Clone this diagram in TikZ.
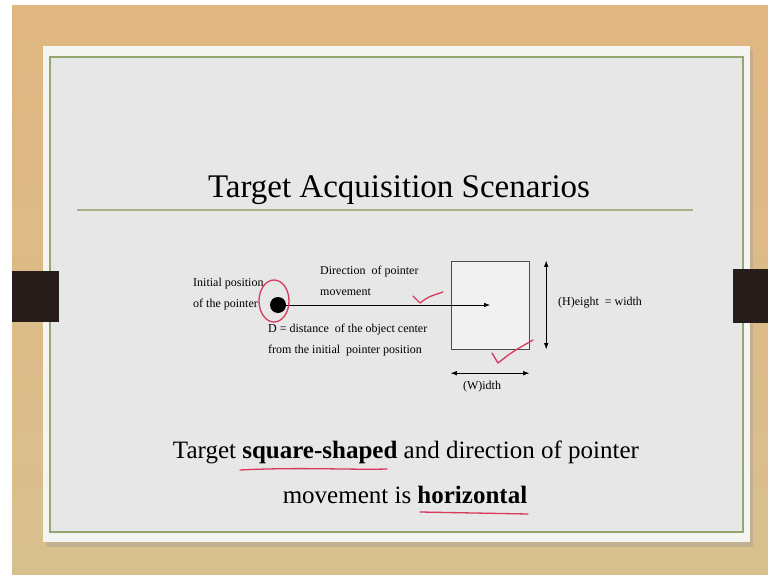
\documentclass[tikz,border=0pt]{standalone}
\usepackage{fontspec}
\setmainfont{Liberation Serif}
\usetikzlibrary{arrows.meta,positioning}
\definecolor{WoodTop}{RGB}{224,182,130}
\definecolor{WoodBottom}{RGB}{216,192,142}
\definecolor{SlideWhite}{RGB}{244,244,242}
\definecolor{SlideGray}{RGB}{231,231,231}
\definecolor{FrameGreen}{RGB}{150,166,112}
\definecolor{InkRed}{RGB}{214,58,92}
\definecolor{TabBlack}{RGB}{40,28,26}
\tikzset{
  small label/.style={font=\fontsize{12}{20.5}\selectfont, align=left, inner sep=0pt},
  red ink/.style={InkRed, line width=1.3pt, line cap=round, line join=round},
  dim arrow/.style={{Latex[length=6pt,width=4.5pt]}-{Latex[length=6pt,width=4.5pt]}, semithick},
}

\begin{document}
\begin{tikzpicture}[x=1pt,y=-1pt]
            \useasboundingbox (0,0) rectangle (768,575);
            \fill[white] (0,0) rectangle (768,575);
            \shade[top color=WoodTop, bottom color=WoodBottom] (12,6) rectangle (768,575);

            % the slide
            \fill[black!40,opacity=0.35] (46,50) rectangle (753,547);
            \fill[SlideWhite] (43,46) rectangle (750,542);
            \draw[FrameGreen, line width=1.5pt, fill=SlideGray] (50,57) rectangle (743,532);
            \fill[TabBlack] (12,271) rectangle (59,322);
            \fill[TabBlack] (733,269) rectangle (768,323);

            \node[font=\fontsize{33}{36}\selectfont, anchor=base] (title) at (399,197) {Target Acquisition Scenarios};
            \draw[FrameGreen!85, line width=1.6pt] (77,210) -- (693,210);

            % pointer and target
            \node[circle, fill=black, inner sep=0pt, minimum size=16pt] (pointer) at (278,305) {};
            \node[draw=black!70, fill=SlideGray!60!white, minimum width=78pt, minimum height=88pt, inner sep=0pt] (target) at (490,305) {};
            \draw[semithick, -{Latex[length=6pt,width=4.5pt]}] (pointer) -- (target.center);
            \draw[dim arrow] ([xshift=17pt]target.north east) -- ([xshift=17pt]target.south east);
            \draw[dim arrow] ([yshift=-24pt]target.south west) -- ([yshift=-24pt]target.south east);

            \node[small label, anchor=west] (height) at (558,303) {(H)eight \ = width};
            \node[small label] (width) at (482,387) {(W)idth};
            \node[small label, anchor=west] (initial) at (193,294) {Initial position\\of the pointer};
            \node[small label, anchor=west] (direction) at (320,281) {Direction \ of pointer\\movement};
            \node[small label, anchor=west] (distance) at (268,340) {D = distance \ of the object center\\from the initial \ pointer position};

            \node[font=\fontsize{25}{30}\selectfont, anchor=base] (caption) at (406,458) {Target \textbf{square-shaped} and direction of pointer};
            \node[font=\fontsize{25}{30}\selectfont, anchor=base] (caption2) at (405,503) {movement is \textbf{horizontal}};

            % red pen marks
            \draw[red ink] (pointer.center) ++(-4,-4) ellipse [x radius=15, y radius=21];
            \draw[red ink] (413,296) .. controls (416,300) .. (420,303) .. controls (428,297) .. (443,292);
            \draw[red ink] (492,353) .. controls (495,358) .. (498,363) .. controls (512,352) .. (533,340);
            \draw[red ink] (240,470) .. controls (300,467) and (350,470) .. (387,469);
            \draw[red ink] (420,512) -- (528,514);
        \end{tikzpicture}
\end{document}
